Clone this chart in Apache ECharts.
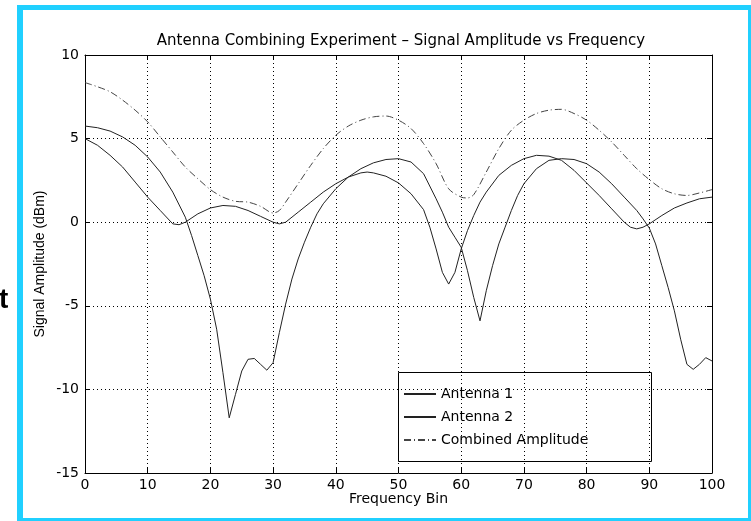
<!DOCTYPE html>
<html>
<head>
<meta charset="utf-8">
<script src="https://cdn.jsdelivr.net/npm/echarts@6/dist/echarts.min.js"></script>
<style>html,body{margin:0;padding:0;background:#fff;}#c{width:751px;height:521px;}</style>
</head>
<body>
<div id="c"></div>
<script>
// ---- data ----
var ant1X = [0,2,4,6,8,10,12,14,16,17,18,19,20,21,22,23,24,25,26,27,28,29,30,31,32,33,34,35,36,37,38,40,42,44,46,48,50,52,54,56,57,58,59,60,61,62,63,64,65,66,67,68,69,70,72,74,76,78,80,82,84,86,88,89,90,91,92,93,94,95,96,97,98,99,100];
var ant1Y = [5.75,5.65,5.45,5.1,4.6,3.9,3.0,1.8,0.3,-0.8,-2.0,-3.2,-4.6,-6.4,-9.0,-11.7,-10.3,-8.9,-8.2,-8.15,-8.5,-8.85,-8.4,-6.6,-4.9,-3.4,-2.2,-1.2,-0.3,0.5,1.1,2.0,2.7,3.2,3.55,3.75,3.8,3.6,2.9,1.4,0.6,-0.3,-0.9,-1.5,-2.9,-4.5,-5.9,-4.1,-2.6,-1.3,-0.3,0.7,1.6,2.3,3.2,3.7,3.8,3.75,3.5,3.0,2.3,1.5,0.7,0.2,-0.35,-1.3,-2.6,-3.9,-5.3,-7.0,-8.5,-8.8,-8.5,-8.1,-8.3];

var ant2X = [0,2,4,6,8,10,12,14,15,16,18,20,22,24,26,28,30,31,32,34,36,38,40,42,44,45,46,48,50,52,54,55,56,57,58,59,60,61,62,63,64,66,68,70,72,74,76,78,80,82,84,86,87,88,89,90,92,94,96,98,100];
var ant2Y = [5.0,4.6,4.0,3.3,2.4,1.5,0.7,-0.1,-0.15,0.0,0.5,0.85,1.0,0.95,0.7,0.35,0.0,-0.1,0.0,0.6,1.2,1.8,2.3,2.7,2.95,3.0,2.95,2.75,2.35,1.7,0.75,-0.3,-1.6,-3.0,-3.7,-3.0,-1.6,-0.5,0.4,1.2,1.8,2.8,3.4,3.8,4.0,3.95,3.7,3.1,2.35,1.6,0.8,0.0,-0.3,-0.4,-0.3,-0.1,0.4,0.85,1.15,1.4,1.5];

var combX = [0,2,4,6,8,10,12,14,16,18,20,22,24,26,28,30,31,32,34,36,38,40,42,44,46,48,50,52,54,56,58,60,61,62,64,66,68,70,72,74,76,78,80,82,84,86,88,90,92,94,96,98,100];
var combY = [8.35,8.1,7.8,7.3,6.7,6.0,5.1,4.2,3.3,2.6,1.95,1.5,1.25,1.2,0.95,0.55,0.7,1.2,2.3,3.4,4.4,5.2,5.75,6.1,6.3,6.35,6.1,5.6,4.7,3.5,2.0,1.5,1.45,1.65,3.0,4.4,5.5,6.1,6.5,6.7,6.75,6.5,6.1,5.5,4.8,4.0,3.2,2.55,2.0,1.7,1.6,1.75,1.95];

var seriesNames = ['Antenna 1','Antenna 2','Combined Amplitude'];
var titleText = 'Antenna Combining Experiment \u2013 Signal Amplitude vs Frequency';
var xName = 'Frequency Bin';
var yName = 'Signal Amplitude (dBm)';

function pairs(xs, ys){ return xs.map(function(x,i){ return [x, ys[i]]; }); }

var FONT = 'DejaVu Sans';
var chart = echarts.init(document.getElementById('c'), null, {renderer:'canvas'});

var gridLine = {show:true, lineStyle:{color:'#000', width:1, type:[1,3]}};
var axisLine = {show:true, onZero:false, lineStyle:{color:'#000', width:1}};
var tick = {show:true, inside:true, length:5, lineStyle:{color:'#000'}};

var option = {
  backgroundColor:'#fff',
  animation:false,
  title:{
    text:titleText, left:396, top:29, textAlign:'center',
    textStyle:{fontFamily:FONT, fontSize:15, fontWeight:'normal', color:'#000'}
  },
  grid:{left:85, right:39, top:55, bottom:48, containLabel:false},
  legend:{
    orient:'vertical', left:398, top:372,
    padding:[15,10,14,5], itemWidth:32, itemHeight:14, itemGap:9,
    textStyle:{fontFamily:FONT, fontSize:14, color:'#000'},
    itemStyle:{color:'rgba(0,0,0,0)', borderWidth:0, opacity:0},
    data:seriesNames
  },
  xAxis:[{
    type:'value', min:0, max:100, interval:10, position:'bottom',
    axisLine:axisLine, axisTick:tick, splitLine:gridLine,
    axisLabel:{color:'#000', fontFamily:FONT, fontSize:14, margin:5},
    name:xName, nameLocation:'middle', nameGap:19, nameMoveOverlap:false,
    nameTextStyle:{color:'#000', fontFamily:FONT, fontSize:14, verticalAlign:'top'}
  },{
    type:'value', min:0, max:100, interval:10, position:'top',
    axisLine:axisLine, axisTick:tick, splitLine:{show:false}, axisLabel:{show:false}
  }],
  yAxis:[{
    type:'value', min:-15, max:10, interval:5, position:'left',
    axisLine:axisLine, axisTick:tick, splitLine:gridLine,
    axisLabel:{color:'#000', fontFamily:FONT, fontSize:14, margin:6},
    name:yName, nameLocation:'middle', nameGap:38, nameMoveOverlap:false,
    nameTextStyle:{color:'#000', fontFamily:'Liberation Sans', fontSize:14}
  },{
    type:'value', min:-15, max:10, interval:5, position:'right',
    axisLine:axisLine, axisTick:tick, splitLine:{show:false}, axisLabel:{show:false}
  }],
  graphic:[
    {type:'rect', shape:{x:17,y:5,width:734,height:5}, style:{fill:'#20d0ff'}, silent:true},
    {type:'rect', shape:{x:17,y:5,width:6,height:516}, style:{fill:'#20d0ff'}, silent:true},
    {type:'rect', shape:{x:748,y:5,width:3,height:516}, style:{fill:'#20d0ff'}, silent:true},
    {type:'rect', shape:{x:17,y:518,width:734,height:3}, style:{fill:'#20d0ff'}, silent:true},
    {type:'rect', shape:{x:398.5,y:372.5,width:253,height:89}, style:{fill:null, stroke:'#000', lineWidth:1}, silent:true},
    {type:'text', left:-1, top:286, style:{text:'t', font:'bold 28px "Liberation Sans"', fill:'#000'}, silent:true}
  ],
  series:[
    {name:seriesNames[0], type:'line', data:pairs(ant1X, ant1Y), symbol:'none', showSymbol:false,
     lineStyle:{color:'#222', width:1}, itemStyle:{color:'#222'}},
    {name:seriesNames[1], type:'line', data:pairs(ant2X, ant2Y), symbol:'none', showSymbol:false,
     lineStyle:{color:'#222', width:1}, itemStyle:{color:'#222'}},
    {name:seriesNames[2], type:'line', data:pairs(combX, combY), symbol:'none', showSymbol:false,
     smooth:0.3,
     lineStyle:{color:'#444', width:1, type:[7,3,1,3]}, itemStyle:{color:'#444'}}
  ]
};
chart.setOption(option);
</script>
</body>
</html>
